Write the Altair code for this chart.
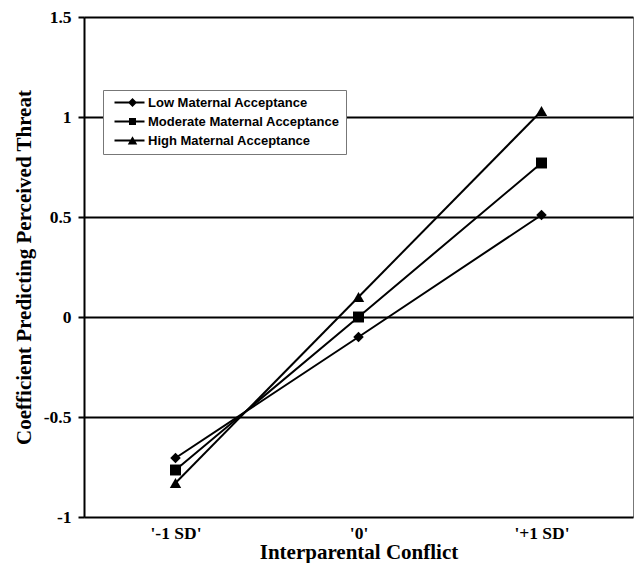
import altair as alt
import pandas as pd

conflict_levels = ["'-1 SD'", "'0'", "'+1 SD'"]
series_names = ["Low Maternal Acceptance", "Moderate Maternal Acceptance", "High Maternal Acceptance"]
low_values = [-0.705, -0.10, 0.51]
moderate_values = [-0.765, 0.00, 0.77]
high_values = [-0.83, 0.10, 1.03]
y_ticks = [-1, -0.5, 0, 0.5, 1, 1.5]

rows = []
for name, vals in zip(series_names, [low_values, moderate_values, high_values]):
    for i, (lvl, v) in enumerate(zip(conflict_levels, vals)):
        rows.append({"conflict": lvl, "series": name, "value": v, "idx": i})
df = pd.DataFrame(rows)

SERIF = "Liberation Serif"
SANS = "Liberation Sans"

PLOT_W = 549
PLOT_H = 500

# legend symbols: a short line with the marker on it (unit = sqrt(symbolSize)/2)
line_part = "M-0.2,-0.2L5.8,-0.2L5.8,0.2L-0.2,0.2Z"
legend_paths = [
    line_part + " M3.4,-0.9L4.3,0L3.4,0.9L2.5,0Z",
    line_part + " M2.7,-0.7L4.1,-0.7L4.1,0.7L2.7,0.7Z",
    line_part + " M3.4,-0.85L4.35,0.8L2.45,0.8Z",
]

x_enc = alt.X(
    "conflict:N",
    sort=conflict_levels,
    scale=alt.Scale(type="point", padding=0.5),
    axis=alt.Axis(
        title="Interparental Conflict",
        grid=False, ticks=False, domain=False, tickSize=0,
        labelAngle=0, labelFont=SERIF, labelFontSize=17.5, labelFontWeight="bold",
        labelColor="black", labelBaseline="alphabetic", labelPadding=21,
        titleFont=SERIF, titleFontSize=21, titleFontWeight="bold", titleColor="black",
        titleBaseline="alphabetic", titleY=41, titleX=PLOT_W / 2,
    ),
)
y_enc = alt.Y(
    "value:Q",
    scale=alt.Scale(domain=[-1, 1.5], nice=False, zero=False),
    axis=alt.Axis(
        values=y_ticks,
        labelExpr="datum.value + ''",
        title="Coefficient Predicting Perceived Threat",
        grid=True, gridColor="black", gridWidth=2, gridOpacity=1,
        domainColor="black", domainWidth=2,
        tickColor="black", tickWidth=2, tickSize=6,
        labelPadding=7, labelFont=SERIF, labelFontSize=17.5, labelFontWeight="bold",
        labelColor="black",
        titleFont=SERIF, titleFontSize=21, titleFontWeight="bold", titleColor="black",
        titleAngle=270, titleX=-60, titleY=PLOT_H / 2, titleAlign="center",
        titleBaseline="middle",
    ),
)

lines = alt.Chart(df).mark_line(color="black", strokeWidth=2).encode(
    x=x_enc, y=y_enc, detail="series:N", order="idx:Q"
)

points = alt.Chart(df).mark_point(filled=True, color="black", opacity=1).encode(
    x=x_enc,
    y=y_enc,
    shape=alt.Shape("series:N", scale=alt.Scale(domain=series_names,
                    range=["diamond", "square", "triangle-up"]), legend=None),
    size=alt.Size("series:N", scale=alt.Scale(domain=series_names,
                  range=[110, 130, 144]), legend=None),
)

legend_layer = alt.Chart(df).mark_point(filled=True, color="black", opacity=0).encode(
    x=x_enc,
    y=y_enc,
    shape=alt.Shape(
        "series:N",
        scale=alt.Scale(domain=series_names, range=legend_paths),
        legend=alt.Legend(
            title=None, orient="none", legendX=19, legendY=73,
            padding=6, rowPadding=5, symbolSize=100,
            symbolFillColor="black", symbolStrokeColor="black", symbolStrokeWidth=0,
            symbolOpacity=1, labelFont=SANS, labelFontSize=13, labelFontWeight="bold",
            labelColor="black", labelOffset=26, strokeColor="#777", fillColor="white",
            labelLimit=400,
        ),
    ),
)

chart = (
    alt.layer(lines, points, legend_layer)
    .resolve_scale(shape="independent", size="independent")
    .properties(
        width=PLOT_W, height=PLOT_H,
        autosize=alt.AutoSizeParams(type="none"),
        padding={"left": 76, "top": 9, "right": 1, "bottom": 46},
        background="white",
    )
    .configure_view(stroke="#777", strokeWidth=1)
)

chart.save("out.html", embed_options={"renderer": "svg", "actions": False})
